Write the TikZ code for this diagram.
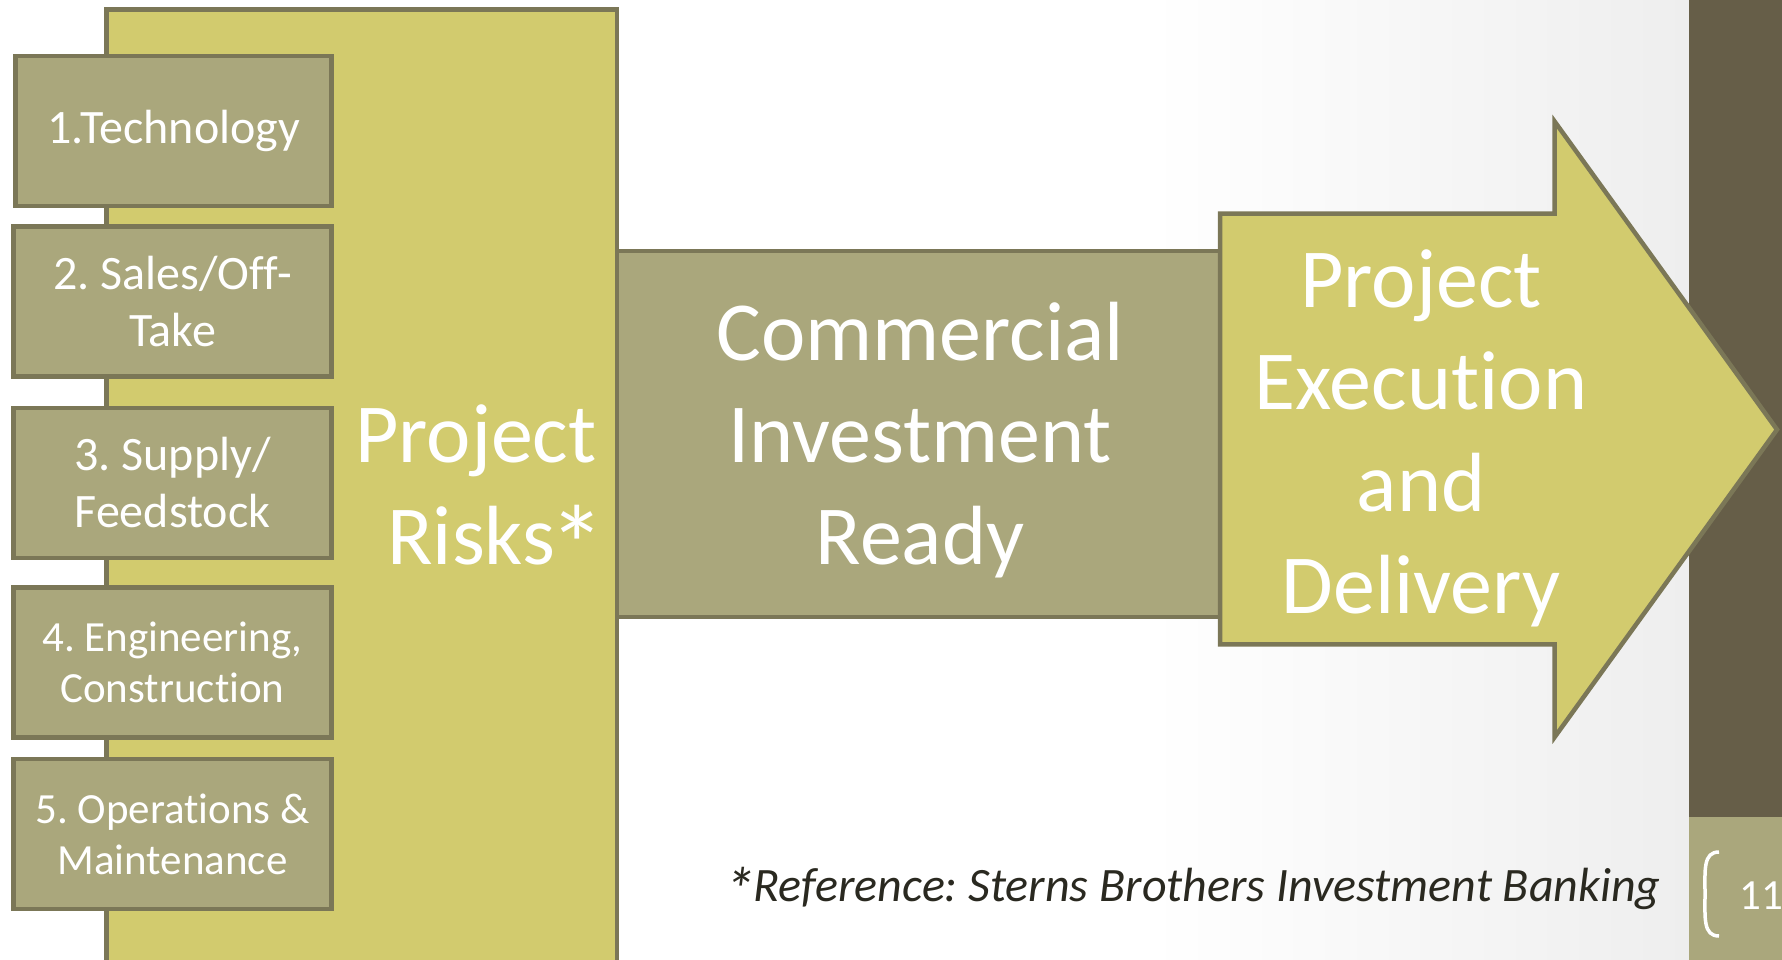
\documentclass[tikz,border=0pt]{standalone}
\usepackage{fontspec}
\setmainfont{Carlito}[Ligatures=NoCommon]
\frenchspacing
\definecolor{edge}{HTML}{7B7757}
\definecolor{khaki}{HTML}{AAA77C}
\definecolor{mustard}{HTML}{D2CB6E}
\definecolor{darkbar}{HTML}{665E48}
\definecolor{reftext}{HTML}{2A2920}
\definecolor{bggrey}{HTML}{EEEEEE}
\newcommand{\bigast}{\kern-6pt\raisebox{-20pt}{\scalebox{1.33}{*}}}
\newcommand{\refast}{\raisebox{-10pt}{\scalebox{1.3}{*}}\kern-2pt}
\tikzset{
  riskbox/.style={draw=edge, fill=khaki, line width=4.5pt, minimum width=318pt, minimum height=150pt,
    align=center, text=white, inner sep=0pt, font=\frenchspacing\fontsize{48}{57}\selectfont},
  smallrisk/.style={riskbox, font=\frenchspacing\fontsize{43}{51}\selectfont},
  bigtext/.style={text=white, align=center, inner sep=0pt, font=\fontsize{84}{102}\selectfont},
  panel/.style={draw=edge, line width=4.5pt}
}
\begin{document}
\begin{tikzpicture}[x=1pt,y=-1pt]
\useasboundingbox (0,0) rectangle (1782,960);
\fill[white] (0,0) rectangle (1782,960);
\shade[left color=white, right color=bggrey] (1150,0) rectangle (1690,960);
% right side bars
\fill[darkbar] (1689,0) rectangle (1782,817);
\fill[khaki] (1689,817) rectangle (1782,960);
\draw[white, line width=3.5pt] (1719,852) .. controls (1703,852) and (1705,870) .. (1705,894)
  .. controls (1705,918) and (1703,936) .. (1719,936);
\node[text=white, anchor=base west, inner sep=0pt, font=\fontsize{43}{50}\selectfont] (page) at (1739,909) {11};
% big risks panel
\draw[panel, fill=mustard] (106.3,9.5) rectangle (617,975);
\node[bigtext] (risks) at (476,495) {Project\\\hspace*{40pt}Risks\bigast};
% middle panel
\draw[panel, fill=khaki] (617,251) rectangle (1220,617);
\node[bigtext] (cir) at (920,440) {Commercial\\Investment\\Ready};
% arrow
\draw[panel, fill=mustard] (1220,213.7) -- (1554.7,213.7) -- (1554.7,121.6) -- (1777,429.6)
  -- (1554.7,737) -- (1554.7,644.4) -- (1220,644.4) -- cycle;
\node[bigtext] (ped) at (1421,438) {Project\\Execution\\and\\Delivery};
% risk boxes
\node[riskbox, minimum width=316pt] (r1) at (173.7,131) {1.Technology};
\node[riskbox] (r2) at (172.5,301.5) {2. Sales/Off-\\Take};
\node[riskbox] (r3) at (172.5,483) {3. Supply/\\Feedstock};
\node[smallrisk] (r4) at (172.5,662.4) {4. Engineering,\\Construction};
\node[smallrisk] (r5) at (172.5,834) {5. Operations \&\\Maintenance};
% reference
\node[text=reftext, anchor=base west, inner sep=0pt, font=\frenchspacing\itshape\fontsize{48}{55}\selectfont] (ref) at (724,901)
  {\refast Reference: Sterns Brothers Investment Banking};
\end{tikzpicture}
\end{document}
